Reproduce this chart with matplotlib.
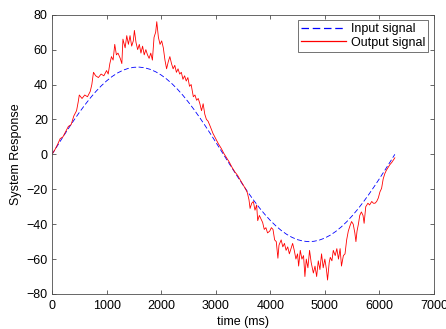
import matplotlib
matplotlib.use("Agg")
import matplotlib.pyplot as plt

plt.rcParams['font.family'] = ['Liberation Sans', 'DejaVu Sans']

# Input signal
t_in = [0, 100, 200, 300, 400, 500, 600, 700, 800, 900, 1000, 1100, 1200, 1300, 1400,
        1500, 1600, 1700, 1800, 1900, 2000, 2100, 2200, 2300, 2400, 2500, 2600, 2700,
        2800, 2900, 3000, 3100, 3200, 3300, 3400, 3500, 3600, 3700, 3800, 3900, 4000,
        4100, 4200, 4300, 4400, 4500, 4600, 4700, 4800, 4900, 5000, 5100, 5200, 5300,
        5400, 5500, 5600, 5700, 5800, 5900, 6000, 6100, 6200, 6283]
v_in = [0, 4.99, 9.93, 14.78, 19.47, 23.97, 28.23, 32.21, 35.87, 39.17, 42.07, 44.56,
        46.60, 48.18, 49.27, 49.87, 49.98, 49.58, 48.69, 47.31, 45.46, 43.16, 40.43,
        37.29, 33.78, 29.92, 25.78, 21.37, 16.75, 11.96, 7.06, 2.08, -2.92, -7.89,
        -12.78, -17.54, -22.13, -26.49, -30.59, -34.39, -37.84, -40.91, -43.58, -45.81,
        -47.58, -48.88, -49.68, -50.00, -49.81, -49.12, -47.95, -46.29, -44.18, -41.61,
        -38.64, -35.28, -31.56, -27.54, -23.23, -18.69, -13.97, -9.11, -4.16, 0]

# Output signal
t_out = [0, 50, 100, 150, 200, 250, 300, 350, 400, 450, 480, 500, 550, 600, 650, 700,
         730, 760, 800, 850, 900, 950, 1000, 1030, 1060, 1090, 1120, 1150, 1180, 1210,
         1250, 1280, 1300, 1340, 1370, 1400, 1430, 1460, 1490, 1510, 1540, 1570, 1600,
         1630, 1660, 1690, 1720, 1750, 1780, 1810, 1840, 1870, 1900, 1920, 1950, 1980,
         2010, 2040, 2070, 2100, 2130, 2160, 2190, 2220, 2250, 2280, 2310, 2340, 2370,
         2400, 2430, 2460, 2490, 2520, 2550, 2590, 2620, 2650, 2680, 2710, 2740, 2770,
         2800, 2830, 2860, 2900, 2950, 3000, 3050, 3100, 3150, 3200, 3250, 3300, 3350,
         3400, 3450, 3500, 3550, 3580, 3610, 3630, 3660, 3690, 3720, 3750, 3770, 3800,
         3830, 3860, 3890, 3920, 3950, 3990, 4020, 4050, 4080, 4110, 4140, 4160, 4200,
         4230, 4260, 4290, 4320, 4350, 4380, 4410, 4440, 4470, 4500, 4520, 4550, 4580,
         4610, 4635, 4660, 4690, 4720, 4750, 4790, 4820, 4850, 4880, 4910, 4940, 4970,
         5000, 5030, 5050, 5080, 5100, 5130, 5155, 5190, 5220, 5250, 5280, 5305, 5340,
         5370, 5400, 5430, 5460, 5490, 5520, 5550, 5570, 5590, 5615, 5640, 5670, 5700,
         5720, 5750, 5790, 5820, 5860, 5890, 5920, 5950, 5980, 6010, 6040, 6070, 6100,
         6130, 6160, 6190, 6230, 6283]
v_out = [0, 2.5, 5.5, 9, 10, 13, 16, 17, 22, 25, 30, 34, 32, 34, 33, 36,
         40, 47, 45, 44, 46, 45, 48, 46, 52, 56, 54, 63, 57, 58,
         55, 52, 66, 61, 68, 63, 68, 62, 65, 71, 64, 60, 63,
         58, 62, 57, 60, 57, 55, 58, 54, 67, 70, 76, 67, 63,
         65, 61, 54, 49, 53, 56, 52, 49, 51, 47, 49, 46, 47,
         43, 45, 42, 44, 39, 40, 33, 34, 31, 32, 29, 25, 29,
         23, 20, 19, 16, 12, 9, 6, 3.5, 0.5, -2, -4.5, -7.5, -10,
         -12, -14.7, -17.5, -20, -22, -26, -31, -28, -27, -32, -29, -38, -35,
         -37, -39, -43, -42, -45, -44, -42, -43, -49, -50, -59.5, -52, -49,
         -53, -51, -55, -53, -57, -54, -51, -55, -60, -57, -64, -55, -60,
         -58, -70, -60, -65, -55, -62, -68, -64, -70, -61, -66, -57, -65,
         -60, -66, -72, -62, -59, -61, -55, -58, -54, -60, -54, -64, -58,
         -57, -49, -44, -41, -38.5, -40, -45, -50, -44, -40, -35, -33, -35,
         -39.5, -30, -28, -29, -27, -28, -28, -27, -25, -21.5, -19.5, -14, -11,
         -9, -7.5, -6, -4.5, -2]

x_ticks = [0, 1000, 2000, 3000, 4000, 5000, 6000, 7000]
y_ticks = [-80, -60, -40, -20, 0, 20, 40, 60, 80]

fig = plt.figure(figsize=(4.46, 3.29), dpi=100)
ax = fig.add_axes([0.1166, 0.1064, 0.8564, 0.8489])

ax.plot(t_in, v_in, color='#0000ff', lw=0.6, dashes=(6, 3), label='Input signal')
ax.plot(t_out, v_out, color='#ff0000', lw=0.6, label='Output signal')

ax.set_xlim(0, 7000)
ax.set_ylim(-80, 80)
ax.set_xticks(x_ticks)
ax.set_yticks(y_ticks)
ax.tick_params(direction='in', top=True, right=True, labelsize=9, length=3,
               width=0.6, color='0.3')
ax.tick_params(axis='x', pad=4)
ax.tick_params(axis='y', pad=3)
for s in ax.spines.values():
    s.set_color('0.3')
    s.set_linewidth(0.6)

ax.set_xlabel('time (ms)', fontsize=9, labelpad=3)
ax.set_ylabel('System Response', fontsize=9, labelpad=3)

leg = ax.legend(loc='upper right', fontsize=9, frameon=True, fancybox=False,
                handlelength=3.6, borderpad=0.25, labelspacing=0.1,
                handletextpad=0.4, borderaxespad=0.45)
leg.get_frame().set_edgecolor('0.2')
leg.get_frame().set_linewidth(0.6)
for h in leg.get_lines():
    h.set_linewidth(0.9)

fig.savefig('out.png', dpi=100)
